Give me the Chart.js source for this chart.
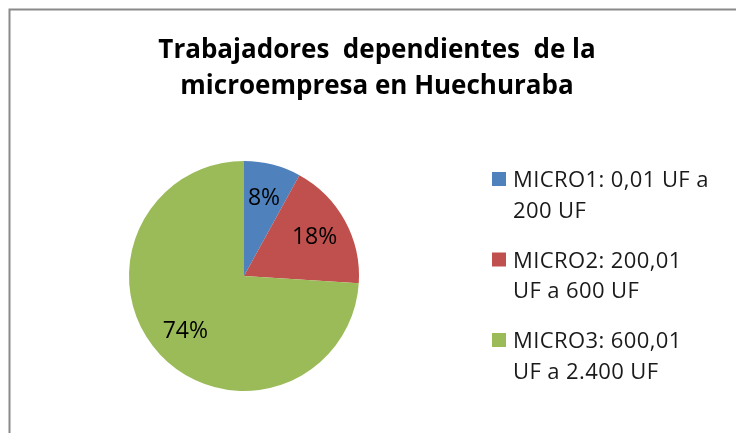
<!DOCTYPE html>
<html><head><meta charset="utf-8">
<script src="https://cdn.jsdelivr.net/npm/chart.js@4.4.1/dist/chart.umd.min.js"></script>
<style>html,body{margin:0;padding:0;background:#fff;overflow:hidden}#wrap{position:relative;width:736px;height:433px}</style>
</head><body><div id="wrap"><canvas id="c" width="736" height="433"></canvas></div>
<script>
const titleLines = ['Trabajadores  dependientes  de la', 'microempresa en Huechuraba'];
const categories = [
  ['MICRO1: 0,01 UF a', '200 UF'],
  ['MICRO2: 200,01', 'UF a 600 UF'],
  ['MICRO3: 600,01', 'UF a 2.400 UF']
];
const values = [8, 18, 74];
const colors = ['#4F81BD', '#C0504D', '#9BBB59'];

const decor = {
  id: 'decor',
  beforeDraw(chart) {
    const ctx = chart.ctx;
    ctx.save();
    ctx.fillStyle = '#fff';
    ctx.fillRect(0, 0, chart.width, chart.height);
    ctx.strokeStyle = '#8a8a8a';
    ctx.lineWidth = 2;
    ctx.strokeRect(9.5, 9.5, chart.width + 40, chart.height + 40);
    ctx.restore();
  },
  afterDatasetsDraw(chart) {
    const ctx = chart.ctx;
    const meta = chart.getDatasetMeta(0);
    const total = values.reduce((a, b) => a + b, 0);
    ctx.save();
    ctx.fillStyle = '#000';
    ctx.font = '23px "Open Sans"';
    ctx.textAlign = 'center';
    ctx.textBaseline = 'middle';
    meta.data.forEach((arc, i) => {
      const p = arc.getProps(['x', 'y', 'startAngle', 'endAngle', 'outerRadius'], true);
      const mid = (p.startAngle + p.endAngle) / 2;
      const r = p.outerRadius * 0.7;
      const txt = Math.round(values[i] / total * 100) + '%';
      ctx.fillText(txt, p.x + Math.cos(mid) * r, p.y + Math.sin(mid) * r);
    });
    ctx.restore();
  },
  afterDraw(chart) {
    const ctx = chart.ctx;
    ctx.save();
    // title
    ctx.fillStyle = '#000';
    ctx.font = 'bold 26px "Open Sans"';
    ctx.textAlign = 'center';
    ctx.textBaseline = 'alphabetic';
    titleLines.forEach((t, i) => ctx.fillText(t, 377, 58 + i * 35.5));
    // legend
    ctx.textAlign = 'left';
    ctx.font = '22px "Open Sans"';
    if ('letterSpacing' in ctx) ctx.letterSpacing = '0.4px';
    categories.forEach((lines, i) => {
      const top = 172 + i * 80.5;
      ctx.fillStyle = colors[i];
      ctx.fillRect(492, top, 14, 14);
      ctx.fillStyle = '#1a1a1a';
      lines.forEach((l, j) => ctx.fillText(l, 513, top + 15 + j * 30.5));
    });
    ctx.restore();
  }
};

new Chart(document.getElementById('c'), {
  type: 'pie',
  data: {
    labels: categories.map(c => c.join(' ')),
    datasets: [{ data: values, backgroundColor: colors, borderWidth: 0 }]
  },
  options: {
    responsive: false,
    animation: false,
    layout: { padding: { left: 129, right: 377, top: 161, bottom: 42 } },
    plugins: { legend: { display: false }, tooltip: { enabled: false }, title: { display: false } }
  },
  plugins: [decor]
});
</script></body></html>
